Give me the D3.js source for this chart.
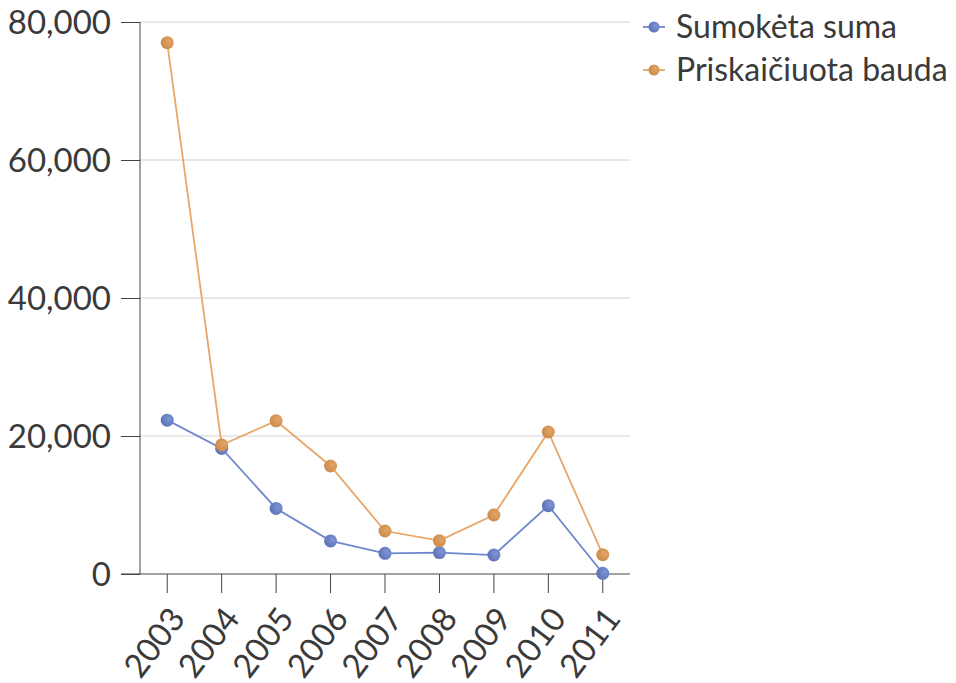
<!DOCTYPE html>
<html>
<head>
<meta charset="utf-8">
<script src="https://cdn.jsdelivr.net/npm/d3@7"></script>
<style>
  body { margin: 0; background: #fff; }
  text { font-family: Lato, "Open Sans", sans-serif; fill: #3a3a3a; }
</style>
</head>
<body>
<script>
// chart data
var years = ["2003", "2004", "2005", "2006", "2007", "2008", "2009", "2010", "2011"];
var sumoketa = [22300, 18200, 9500, 4800, 3000, 3100, 2750, 9900, 100];
var priskaiciuota = [77000, 18700, 22200, 15650, 6230, 4830, 8550, 20580, 2800];
var seriesNames = ["Sumokėta suma", "Priskaičiuota bauda"];
var yTicks = [0, 20000, 40000, 60000, 80000];

var svgWidth = 956;
var svgHeight = 683;

var margin = { top: 22, right: 326, bottom: 109, left: 140 };
var width = svgWidth - margin.left - margin.right;
var height = svgHeight - margin.top - margin.bottom;

var svg = d3.select("body")
  .append("svg")
  .attr("width", svgWidth)
  .attr("height", svgHeight);

// shaded markers
var defs = svg.append("defs");
function grad(id, light, dark) {
  var g = defs.append("radialGradient").attr("id", id)
    .attr("cx", "65%").attr("cy", "40%").attr("r", "70%");
  g.append("stop").attr("offset", "0%").attr("stop-color", light);
  g.append("stop").attr("offset", "100%").attr("stop-color", dark);
}
grad("gBlue", "#7f95d6", "#5a6fb5");
grad("gOrange", "#e2a567", "#c98848");

var chartGroup = svg.append("g")
  .attr("transform", `translate(${margin.left}, ${margin.top})`);

var xScale = d3.scaleBand()
  .domain(years)
  .range([0, width]);

var yScale = d3.scaleLinear()
  .domain([0, 80000])
  .range([height, 0]);

// gridlines
chartGroup.append("g")
  .selectAll("line")
  .data(yTicks.slice(1))
  .enter()
  .append("line")
  .attr("x1", 0)
  .attr("x2", width)
  .attr("y1", d => yScale(d))
  .attr("y2", d => yScale(d))
  .attr("stroke", "#d2d2d2")
  .attr("stroke-width", 1);

// y axis
var leftAxis = d3.axisLeft(yScale)
  .tickValues(yTicks)
  .tickSize(19)
  .tickPadding(10)
  .tickFormat(d3.format(","));

var yAxisG = chartGroup.append("g").call(leftAxis);
yAxisG.select(".domain").attr("stroke", "#444").attr("d", `M0,0V${height}`);
yAxisG.selectAll(".tick line").attr("stroke", "#444");
yAxisG.selectAll(".tick text")
  .attr("font-size", "33px")
  .attr("font-family", "Lato, sans-serif")
  .attr("fill", "#3a3a3a")
  .attr("dy", "0.35em");

// x axis
var bottomAxis = d3.axisBottom(xScale)
  .tickSize(19)
  .tickSizeOuter(0);

var xAxisG = chartGroup.append("g")
  .attr("transform", `translate(0, ${height})`)
  .call(bottomAxis);
xAxisG.select(".domain").attr("stroke", "#444").attr("d", `M-19,0H${width}`);
xAxisG.selectAll(".tick line").attr("stroke", "#444");
xAxisG.selectAll(".tick text")
  .attr("font-size", "33px")
  .attr("font-family", "Lato, sans-serif")
  .attr("fill", "#3a3a3a")
  .attr("text-anchor", "end")
  .attr("transform", "translate(10, 38) rotate(-53)")
  .attr("x", 0)
  .attr("y", 0)
  .attr("dy", "0.35em");

// lines and markers
var series = [
  { name: seriesNames[0], values: sumoketa, line: "#6f88cc", fill: "url(#gBlue)" },
  { name: seriesNames[1], values: priskaiciuota, line: "#e8a669", fill: "url(#gOrange)" }
];

var line = d3.line()
  .x((d, i) => xScale(years[i]) + xScale.bandwidth() / 2)
  .y(d => yScale(d));

series.forEach(function(s) {
  chartGroup.append("path")
    .datum(s.values)
    .attr("fill", "none")
    .attr("stroke", s.line)
    .attr("stroke-width", 1.8)
    .attr("d", line);
});

series.forEach(function(s) {
  chartGroup.selectAll(null)
    .data(s.values)
    .enter()
    .append("circle")
    .attr("cx", (d, i) => xScale(years[i]) + xScale.bandwidth() / 2)
    .attr("cy", d => yScale(d))
    .attr("r", 6.5)
    .attr("fill", s.fill);
});

// legend
var legend = svg.append("g")
  .attr("transform", "translate(643, 27)");

var legendItems = legend.selectAll("g")
  .data(series)
  .enter()
  .append("g")
  .attr("transform", (d, i) => `translate(0, ${i * 43})`);

legendItems.append("line")
  .attr("x1", 0)
  .attr("x2", 22)
  .attr("stroke", d => d.line)
  .attr("stroke-width", 1.8);

legendItems.append("circle")
  .attr("cx", 11)
  .attr("r", 5.5)
  .attr("fill", d => d.fill);

legendItems.append("text")
  .attr("x", 33)
  .attr("dy", "0.35em")
  .attr("font-size", "32px")
  .text(d => d.name);
</script>
</body>
</html>
